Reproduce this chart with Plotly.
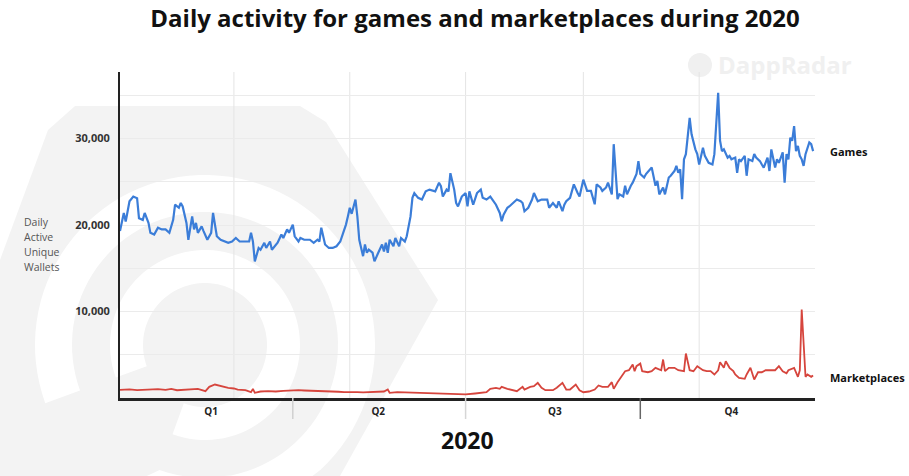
import numpy as np
import pandas as pd
import plotly.graph_objects as go

# ---------------- data ----------------
games_day = [0, 2, 3, 5, 7, 9, 10, 12, 13, 15, 16, 18, 20, 22, 24, 26, 28, 29, 31, 32, 33, 35, 36, 38, 39, 40,
             41, 43, 44, 46, 48, 49, 51, 53, 57, 59, 61, 63, 66, 68, 69, 70, 71, 73, 74, 76, 77, 79, 80, 82, 83,
             85, 86, 88, 89, 91, 92, 94, 95, 97, 100, 102, 104, 105, 106, 108, 110, 112, 114, 116, 117, 119, 120,
             121, 122, 124, 125, 126, 128, 129, 130, 131, 133, 134, 136, 138, 139, 140, 141, 142, 144, 145, 147,
             148, 150, 151, 153, 154, 155, 157, 159, 161, 163, 166, 168, 169, 170, 172, 173, 174, 176, 177, 178,
             180, 182, 183, 184, 185, 186, 188, 190, 191, 193, 195, 197, 198, 200, 201, 202, 204, 205, 207, 209,
             211, 212, 213, 215, 217, 218, 220, 222, 225, 226, 228, 230, 231, 233, 234, 235, 237, 238, 239, 241,
             242, 244, 245, 246, 248, 250, 251, 253, 254, 256, 257, 259, 260, 262, 263, 265, 266, 267, 269, 270,
             272, 273, 274, 276, 277, 279, 280, 282, 283, 284, 286, 287, 289, 290, 292, 293, 294, 295, 296, 297,
             298, 300, 301, 303, 304, 305, 307, 308, 310, 312, 313, 315, 316, 317, 318, 320, 321, 322, 324, 325,
             326, 327, 329, 330, 331, 333, 334, 335, 337, 338, 339, 341, 342, 343, 345, 346, 347, 349, 350, 351,
             352, 353, 354, 355, 356, 357, 358, 359, 360, 361, 363, 364, 365]
games_val = [19300, 21400, 20400, 22750, 23300, 23100, 20800, 20600, 21400, 20250, 19100, 18900, 19700, 19500,
             19500, 19100, 20600, 22350, 22000, 22550, 22150, 20250, 18300, 21000, 19500, 20250, 19100, 19850,
             19300, 18300, 19100, 21400, 18700, 18300, 17950, 18100, 18500, 18100, 18100, 18100, 19100, 18100,
             15800, 17350, 17150, 17950, 17350, 18100, 17150, 17750, 17950, 18900, 18500, 19500, 19100, 20050,
             18700, 18100, 18500, 18300, 18300, 17950, 18300, 18100, 19700, 17750, 17350, 17350, 17550, 18100,
             18700, 20050, 21000, 22000, 21300, 22950, 21000, 18300, 16400, 17750, 16800, 17150, 16800, 15800,
             16800, 17750, 16950, 17950, 16800, 18300, 17550, 18500, 17550, 18500, 18100, 18700, 21000, 23150,
             23700, 23150, 22950, 23900, 24100, 23900, 24900, 24500, 23300, 24100, 23900, 26000, 24100, 22550,
             22150, 23300, 23700, 22150, 23900, 23150, 22350, 23700, 24100, 23150, 22950, 23300, 22750, 22350,
             21400, 20450, 21200, 22000, 22150, 22550, 22950, 22750, 22550, 21600, 22000, 22950, 23700, 22750,
             22950, 22950, 22000, 22550, 22000, 22750, 21600, 22350, 22750, 23150, 24100, 24700, 23700, 23300,
             25250, 24700, 23950, 23950, 22400, 24700, 24350, 23950, 24350, 24900, 23550, 29350, 23000, 23550,
             23300, 24550, 23550, 24550, 24900, 25900, 27400, 25900, 25500, 25900, 26450, 26650, 24550, 25100,
             23550, 24350, 23550, 25500, 25700, 26250, 26850, 26050, 26450, 23000, 27600, 28200, 32400, 30500,
             28750, 28200, 27000, 28950, 28000, 27200, 27000, 28200, 35300, 29750, 28550, 28750, 27800, 28000,
             27600, 27800, 26050, 27600, 27400, 28000, 25700, 27600, 27400, 28200, 27800, 27400, 27000, 26650,
             27800, 26250, 28750, 26650, 27600, 27200, 28400, 24900, 28200, 27600, 30100, 29750, 31450, 28550,
             29150, 28000, 27600, 26850, 28200, 29550, 29350, 28550]

market_day = [0, 5, 9, 12, 16, 20, 24, 27, 30, 34, 38, 41, 45, 47, 50, 52, 55, 57, 60, 62, 64, 66, 69, 70, 71,
              74, 78, 82, 86, 90, 94, 97, 100, 104, 108, 111, 115, 118, 121, 125, 128, 132, 136, 139, 141, 142,
              146, 150, 153, 157, 160, 164, 167, 170, 174, 178, 182, 187, 193, 195, 198, 200, 201, 204, 207, 209,
              212, 213, 216, 218, 220, 222, 224, 228, 230, 233, 235, 237, 240, 242, 244, 247, 250, 252, 254, 257,
              259, 260, 262, 264, 266, 268, 270, 271, 272, 274, 275, 278, 280, 282, 284, 285, 286, 287, 289, 292,
              294, 297, 298, 300, 302, 304, 307, 309, 311, 313, 315, 316, 318, 319, 321, 323, 324, 326, 329, 330,
              332, 334, 336, 338, 340, 343, 345, 347, 349, 351, 352, 355, 357, 358, 359, 361, 362, 364, 365]
market_val = [950, 1000, 900, 950, 980, 1020, 950, 1060, 900, 980, 1000, 1060, 790, 1290, 1560, 1450, 1300,
              1180, 1100, 980, 950, 900, 670, 1060, 600, 750, 800, 750, 820, 870, 900, 870, 850, 870, 820, 750,
              720, 670, 700, 670, 650, 700, 720, 750, 980, 600, 670, 650, 600, 580, 600, 560, 520, 500, 480, 480,
              420, 520, 670, 1060, 1180, 1060, 1290, 1060, 900, 790, 1290, 980, 1290, 1360, 1750, 1180, 900, 900,
              1180, 1750, 980, 980, 1560, 900, 670, 750, 980, 1450, 1290, 1290, 1830, 1060, 1830, 2450, 3100,
              3210, 3870, 3100, 3680, 3990, 3100, 2980, 3100, 3490, 3290, 3210, 4450, 3100, 3490, 3490, 3210,
              3100, 5140, 3210, 3100, 3680, 3210, 3100, 3100, 2720, 3210, 4140, 3490, 4250, 3490, 3100, 2720,
              2330, 2220, 2720, 3490, 2140, 2980, 2980, 3210, 3210, 3210, 3680, 3100, 2860, 3210, 3490, 2450,
              3210, 10230, 2450, 2720, 2450, 2600]

series_names = ["Games", "Marketplaces"]
quarter_labels = ["Q1", "Q2", "Q3", "Q4"]
y_tick_vals = [5000, 10000, 15000, 20000, 25000, 30000, 35000]
y_tick_text = ["", "10,000", "", "20,000", "", "30,000", ""]
y_title_lines = ["Daily", "Active", "Unique", "Wallets"]
x_title = "2020"
title_text = "Daily activity for games and marketplaces during 2020"

# ---------------- geometry helpers ----------------
W, H = 909, 476
L, R, T, B = 120, 815, 72, 398
FONT = "Open Sans"


def px(x):
    return (x - L) / (R - L)


def py(y):
    return (B - y) / (B - T)


start = pd.Timestamp("2020-01-01")
g_dates = start + pd.to_timedelta(games_day, unit="D")
m_dates = start + pd.to_timedelta(market_day, unit="D")

fig = go.Figure()
fig.add_trace(go.Scatter(x=g_dates, y=games_val, mode="lines", name=series_names[0],
                         line=dict(color="#3b7dd8", width=2.2), hoverinfo="skip"))
fig.add_trace(go.Scatter(x=m_dates, y=market_val, mode="lines", name=series_names[1],
                         line=dict(color="#d6453d", width=1.8), hoverinfo="skip"))

shapes = []

# ---- watermark (background logo) ----
hexagon = [(75, 106), (300, 106), (326, 122), (438, 300), (340, 476), (0, 476), (0, 260), (48, 130)]
path = "M " + " L ".join(f"{px(x):.4f},{py(y):.4f}" for x, y in hexagon) + " Z"
shapes.append(dict(type="path", xref="paper", yref="paper", path=path,
                   fillcolor="#f3f3f3", line=dict(width=0), layer="below"))


def ring(cx, cy, r_out, r_in, a0, a1):
    th = np.radians(np.linspace(a0, a1, 90))
    outer = [(cx + r_out * np.cos(t), cy - r_out * np.sin(t)) for t in th]
    inner = [(cx + r_in * np.cos(t), cy - r_in * np.sin(t)) for t in th[::-1]]
    pts = outer + inner
    pts = [(x, min(y, 476)) for x, y in pts]
    return "M " + " L ".join(f"{px(x):.4f},{py(y):.4f}" for x, y in pts) + " Z"


for (ro, ri) in [(170, 133), (95, 62)]:
    shapes.append(dict(type="path", xref="paper", yref="paper", path=ring(205, 345, ro, ri, -110, 200),
                       fillcolor="#ffffff", line=dict(width=0), layer="below"))

# DappRadar small logo circle
shapes.append(dict(type="circle", xref="paper", yref="paper",
                   x0=px(688), x1=px(712), y0=py(77), y1=py(53),
                   fillcolor="#f0f0f0", line=dict(width=0), layer="below"))

# ---- vertical gridlines every two months ----
for d in ["2020-03-01", "2020-05-01", "2020-07-01", "2020-09-01", "2020-11-01"]:
    shapes.append(dict(type="line", xref="x", yref="paper", x0=d, x1=d, y0=0, y1=1,
                       line=dict(color="#e4e4e4", width=1), layer="below"))

# ---- quarter separator ticks below axis ----
for d, c in [("2020-04-01", "#cfcfcf"), ("2020-07-01", "#d6d6d6"), ("2020-10-01", "#666666")]:
    shapes.append(dict(type="line", xref="x", yref="paper", x0=d, x1=d, y0=0, y1=py(419),
                       line=dict(color=c, width=1.5), layer="above"))

annotations = []
annotations.append(dict(text="DappRadar", xref="paper", yref="paper", x=px(716), y=py(65),
                        xanchor="left", yanchor="middle", showarrow=False,
                        font=dict(family=FONT, size=24, color="#f0f0f0", weight="bold")))
# x title
annotations.append(dict(text=x_title, xref="paper", yref="paper", x=px(468), y=py(440),
                        xanchor="center", yanchor="middle", showarrow=False,
                        font=dict(family=FONT, size=23, color="#111111", weight="bold")))
# series labels
annotations.append(dict(text=series_names[0], xref="paper", yref="paper", x=px(828), y=py(151),
                        xanchor="left", yanchor="middle", showarrow=False,
                        font=dict(family=FONT, size=11, color="#111111", weight="bold")))
annotations.append(dict(text=series_names[1], xref="paper", yref="paper", x=px(828), y=py(377),
                        xanchor="left", yanchor="middle", showarrow=False,
                        font=dict(family=FONT, size=11, color="#111111", weight="bold")))
# y title lines
for i, line in enumerate(y_title_lines):
    annotations.append(dict(text=line, xref="paper", yref="paper", x=px(22), y=py(222 + 15 * i),
                            xanchor="left", yanchor="middle", showarrow=False,
                            font=dict(family=FONT, size=10.5, color="#555555")))

fig.update_layout(
    width=W, height=H,
    margin=dict(l=L, r=W - R, t=T, b=H - B, pad=0),
    paper_bgcolor="white", plot_bgcolor="rgba(0,0,0,0)",
    showlegend=False,
    title=dict(text=title_text, x=475 / W, xanchor="center", y=1 - 19 / H, yanchor="middle",
               font=dict(family=FONT, size=24, color="#111111", weight="bold")),
    xaxis=dict(range=["2020-01-01", "2021-01-01"], showgrid=False, zeroline=False,
               showline=True, linecolor="#222222", linewidth=2.5,
               tickvals=["2020-02-18", "2020-05-16", "2020-08-17", "2020-11-18"],
               ticktext=quarter_labels, ticks="", ticklabelstandoff=2,
               tickfont=dict(family=FONT, size=10, color="#222222", weight="bold")),
    yaxis=dict(range=[0, 37700], tickvals=y_tick_vals, ticktext=y_tick_text,
               showgrid=True, gridcolor="#ebebeb", gridwidth=1, zeroline=False,
               showline=True, linecolor="#222222", linewidth=2, ticks="", ticklabelstandoff=6,
               tickfont=dict(family=FONT, size=11, color="#333333", weight="bold")),
    shapes=shapes, annotations=annotations,
)

fig.write_html("out.html")
